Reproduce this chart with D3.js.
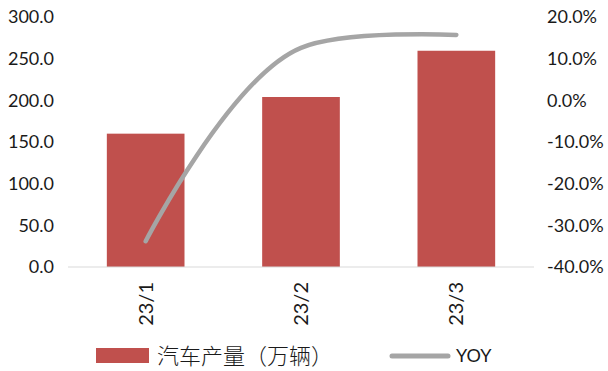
<!DOCTYPE html>
<html>
<head>
<meta charset="utf-8">
<script src="https://cdn.jsdelivr.net/npm/d3@7"></script>
<style>
  body { margin: 0; background: #fff; }
  text { font-family: Lato, "Noto Sans CJK SC", sans-serif; fill: #1a1a1a; }
</style>
</head>
<body>
<svg id="chart" width="608" height="371"></svg>
<script>
// data
const months = ["23/1", "23/2", "23/3"];
const output = [160.0, 204.0, 259.5];     // 汽车产量（万辆）
const yoy = [-0.338, 0.126, 0.157];        // YOY
const leftTicks = [0, 50, 100, 150, 200, 250, 300];
const rightTicks = [-0.4, -0.3, -0.2, -0.1, 0, 0.1, 0.2];

const svg = d3.select("#chart");
const barColor = "#C0504D";
const lineColor = "#A5A5A5";

const x = d3.scaleBand().domain(months).range([68, 534])
    .paddingInner(0.5).paddingOuter(0.25);
const yL = d3.scaleLinear().domain([0, 300]).range([267, 17]);
const yR = d3.scaleLinear().domain([-0.4, 0.2]).range([267, 17]);

// bars
svg.selectAll(".bar")
    .data(months)
    .join("rect")
    .attr("class", "bar")
    .attr("x", d => x(d))
    .attr("width", x.bandwidth())
    .attr("y", (d, i) => yL(output[i]))
    .attr("height", (d, i) => yL(0) - yL(output[i]))
    .attr("fill", barColor);

// baseline
svg.append("line")
    .attr("x1", 68).attr("x2", 534)
    .attr("y1", yL(0)).attr("y2", yL(0))
    .attr("stroke", "#d9d9d9").attr("stroke-width", 1);

// left axis labels
svg.append("g")
    .selectAll("text")
    .data(leftTicks)
    .join("text")
    .attr("x", 54)
    .attr("y", d => yL(d))
    .attr("dy", "0.35em")
    .attr("text-anchor", "end")
    .attr("font-size", 18)
    .text(d => d3.format(".1f")(d));

// right axis labels
svg.append("g")
    .selectAll("text")
    .data(rightTicks)
    .join("text")
    .attr("x", 547)
    .attr("y", d => yR(d))
    .attr("dy", "0.35em")
    .attr("text-anchor", "start")
    .attr("font-size", 18)
    .text(d => d3.format(".1%")(d).replace("−", "-"));

// category labels, rotated
svg.append("g")
    .selectAll("text")
    .data(months)
    .join("text")
    .attr("transform", d => `translate(${x(d) + x.bandwidth() / 2},282) rotate(-90)`)
    .attr("dy", "0.35em")
    .attr("text-anchor", "end")
    .attr("font-size", 20)
    .text(d => d);

// YOY smoothed line
const line = d3.line()
    .x((d, i) => x(months[i]) + x.bandwidth() / 2)
    .y(d => yR(d))
    .curve(d3.curveCatmullRom.alpha(1));

svg.append("path")
    .datum(yoy)
    .attr("d", line)
    .attr("fill", "none")
    .attr("stroke", lineColor)
    .attr("stroke-width", 4.5)
    .attr("stroke-linecap", "round");

// legend
const lg = svg.append("g");
lg.append("rect")
    .attr("x", 96).attr("y", 348).attr("width", 53).attr("height", 15)
    .attr("fill", barColor);
lg.append("text")
    .attr("x", 157).attr("y", 356).attr("dy", "0.35em")
    .attr("font-size", 22)
    .attr("font-weight", 300)
    .style("font-family", "'Noto Sans CJK SC', sans-serif")
    .text("汽车产量（万辆）");
lg.append("line")
    .attr("x1", 392).attr("x2", 448).attr("y1", 356).attr("y2", 356)
    .attr("stroke", lineColor).attr("stroke-width", 5).attr("stroke-linecap", "round");
lg.append("text")
    .attr("x", 456).attr("y", 356).attr("dy", "0.35em")
    .attr("font-size", 18)
    .text("YOY");
</script>
</body>
</html>
